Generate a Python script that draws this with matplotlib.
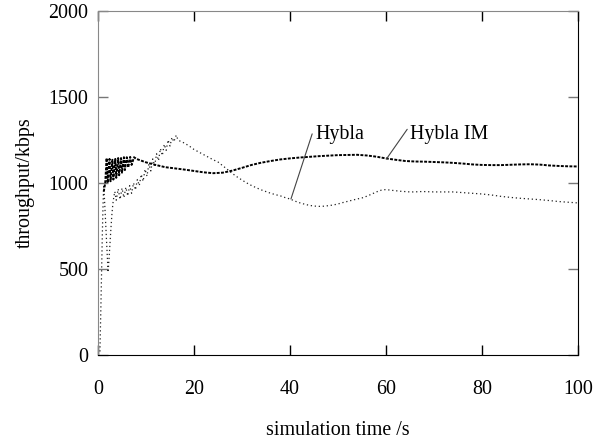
import matplotlib
matplotlib.use("Agg")
import matplotlib.pyplot as plt

plt.rcParams['font.family'] = ['Liberation Serif', 'DejaVu Serif']

# Hybla IM (upper, denser curve)
im_t = [1.2, 1.5, 1.8, 2.0, 2.4, 2.6, 3.0, 3.2, 3.6, 3.8, 4.2, 4.4, 4.8, 5.0, 5.4, 5.6,
        6.0, 6.3, 6.7, 7.0, 7.5, 8, 9, 10, 12, 14, 16, 18, 20, 22, 24, 26, 28, 30,
        32, 34, 36, 38, 40, 42, 44, 46, 48, 50, 52, 54, 56, 58, 60, 62, 64, 66, 68,
        70, 72, 74, 76, 78, 80, 82, 84, 86, 88, 90, 92, 94, 96, 98, 100]
im_kbps = [950, 1000, 1145, 1000, 1140, 1010, 1135, 1020, 1140, 1030, 1145, 1045, 1145,
           1060, 1150, 1075, 1150, 1090, 1152, 1105, 1150, 1140, 1130, 1120, 1105, 1092,
           1085, 1078, 1070, 1062, 1057, 1060, 1072, 1088, 1105, 1118, 1128, 1137, 1143,
           1148, 1152, 1156, 1159, 1162, 1163, 1164, 1160, 1153, 1143, 1135, 1128, 1125,
           1124, 1122, 1120, 1117, 1113, 1108, 1105, 1104, 1104, 1106, 1108, 1109, 1107,
           1102, 1099, 1097, 1096]

# Hybla (lighter dotted curve)
hy_t = [0.4, 0.5, 0.6, 0.7, 0.8, 0.9, 1.0, 1.1, 1.2, 2.1, 2.3, 2.5, 2.7, 2.9, 3.1, 3.3,
        3.5, 3.8, 4.2, 4.6, 5.0, 5.4, 5.8, 6.2, 6.6, 7.0, 7.4, 7.8, 8.2, 8.6, 9.0, 9.4,
        9.8, 10.2, 10.6, 11.0, 11.4, 11.8, 12.2, 12.6, 13.0, 13.4, 13.8, 14.2, 14.6,
        15.0, 15.4, 15.8, 16.3, 16.6, 17, 18, 19, 20, 21, 22, 23, 24, 25, 26, 27, 28,
        29, 30, 31, 32, 33, 34, 35, 36, 37, 38, 39, 40, 41, 42, 43, 44, 45, 46, 47, 48,
        49, 50, 51, 52, 53, 54, 55, 56, 57, 58, 59, 60, 61, 62, 63, 64, 65, 66, 67, 68,
        69, 70, 72, 74, 76, 78, 80, 82, 84, 86, 88, 90, 92, 94, 96, 98, 100]
hy_kbps = [20, 150, 280, 420, 560, 700, 820, 920, 990, 480, 560, 650, 740, 820, 880, 920,
           950, 900, 965, 905, 970, 915, 975, 925, 985, 940, 1000, 960, 1020, 985, 1050,
           1010, 1080, 1040, 1110, 1070, 1140, 1100, 1170, 1130, 1200, 1160, 1225, 1190,
           1250, 1215, 1265, 1240, 1278, 1255, 1245, 1232, 1215, 1195, 1180, 1165, 1150,
           1135, 1122, 1100, 1078, 1055, 1035, 1017, 1000, 985, 972, 960, 950, 940, 932,
           925, 915, 907, 895, 885, 877, 870, 866, 864, 865, 868, 872, 878, 886, 893, 900,
           907, 913, 923, 935, 948, 958, 962, 958, 955, 952, 950, 948, 948, 950, 950, 949,
           948, 948, 948, 944, 940, 936, 930, 922, 916, 911, 907, 903, 898, 892, 888, 884]

fig = plt.figure(figsize=(5.94, 4.42), dpi=100)
ax = fig.add_axes([0.165, 0.197, 0.808, 0.778])

ax.plot(hy_t, hy_kbps, color='#222222', lw=0.9, linestyle=(0, (1, 2.2)))
ax.plot(im_t, im_kbps, color='black', lw=1.4, linestyle=(0, (1.5, 0.7)))

ax.set_xlim(0, 100)
ax.set_ylim(0, 2000)
ax.set_xticks([0, 20, 40, 60, 80, 100])
ax.set_yticks([0, 500, 1000, 1500, 2000])
ax.tick_params(axis='x', direction='in', length=7.2, width=1, top=True, pad=18,
               labelsize=14.4, colors='black')
ax.tick_params(axis='y', direction='in', length=7.2, width=1, right=True, pad=7,
               labelsize=14.4, color='#777777')
for side in ['left', 'top']:
    ax.spines[side].set_color('#888888')
for side in ['bottom', 'right']:
    ax.spines[side].set_color('black')

ax.set_xlabel('simulation time /s', fontsize=14.4, labelpad=16)
ax.set_ylabel('throughput/kbps', fontsize=14.4, labelpad=10)

ax.annotate('Hybla', xy=(40.2, 907), xytext=(45.2, 1280), fontsize=14.4,
            va='center', ha='left',
            arrowprops=dict(arrowstyle='-', color='#444444', lw=0.8,
                            shrinkA=0, shrinkB=0, relpos=(0, 1)))
ax.annotate('Hybla IM', xy=(60.1, 1140), xytext=(65.0, 1280), fontsize=14.4,
            va='center', ha='left',
            arrowprops=dict(arrowstyle='-', color='#444444', lw=0.8,
                            shrinkA=0, shrinkB=0, relpos=(0, 1)))

fig.savefig('out.png', dpi=100)
